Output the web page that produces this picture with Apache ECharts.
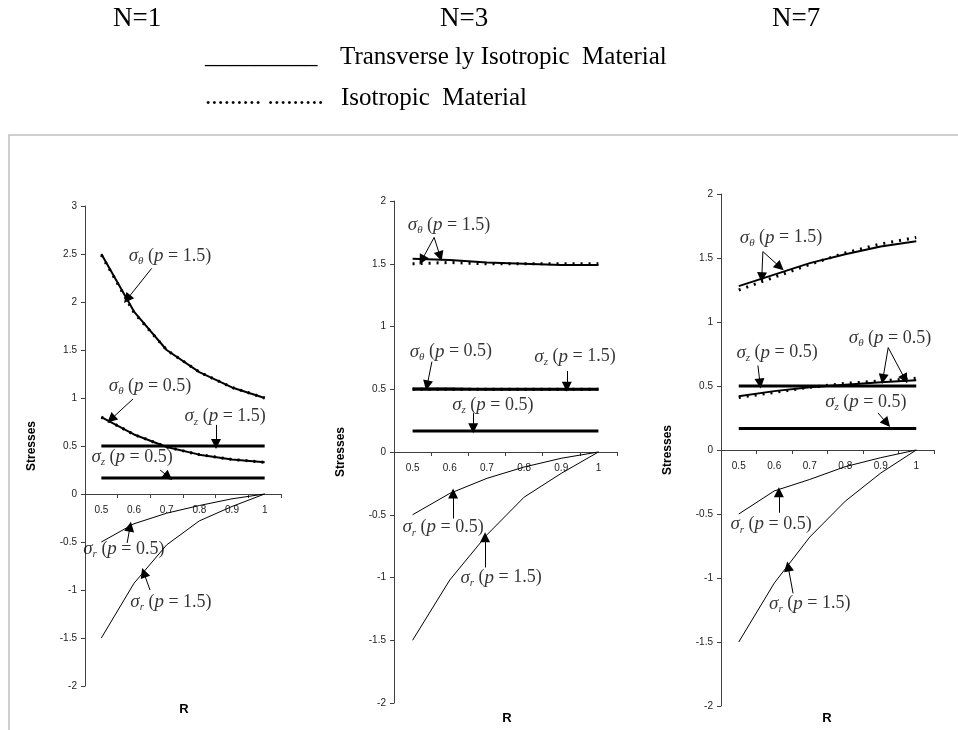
<!DOCTYPE html>
<html><head><meta charset="utf-8">
<script src="https://cdn.jsdelivr.net/npm/echarts@6/dist/echarts.min.js"></script>
<style>html,body{margin:0;padding:0;background:#fff}#c{width:958px;height:730px}</style>
</head><body><div id="c"></div>
<script>
// ---------- data ----------
const categories = ['0.5', '0.6', '0.7', '0.8', '0.9', '1'];
const panelTitles = ['N=1', 'N=3', 'N=7'];
const yTop = [3, 2, 2];
const yBottom = -2;

// N=1
const n1ThetaP15 = [2.5, 1.9, 1.5, 1.27, 1.11, 1.0];
const n1ThetaP15Iso = [2.49, 1.89, 1.5, 1.27, 1.11, 1.0];
const n1ThetaP05 = [0.80, 0.62, 0.49, 0.41, 0.36, 0.33];
const n1ThetaP05Iso = [0.80, 0.62, 0.49, 0.41, 0.36, 0.33];
const n1ZP15 = [0.5, 0.5, 0.5, 0.5, 0.5, 0.5];
const n1ZP05 = [0.167, 0.167, 0.167, 0.167, 0.167, 0.167];
const n1RP05 = [-0.5, -0.31, -0.2, -0.12, -0.05, 0];
const n1RP15 = [-1.5, -0.93, -0.53, -0.28, -0.13, 0];

// N=3
const n3ThetaP15 = [1.54, 1.53, 1.51, 1.50, 1.49, 1.49];
const n3ThetaP15Iso = [1.50, 1.51, 1.50, 1.50, 1.50, 1.50];
const n3ThetaP05 = [0.505, 0.505, 0.50, 0.50, 0.50, 0.50];
const n3ThetaP05Iso = [0.50, 0.50, 0.50, 0.50, 0.50, 0.50];
const n3ZP15 = [0.5, 0.5, 0.5, 0.5, 0.5, 0.5];
const n3ZP05 = [0.167, 0.167, 0.167, 0.167, 0.167, 0.167];
const n3RP05 = [-0.5, -0.33, -0.21, -0.12, -0.05, 0];
const n3RP15 = [-1.5, -1.02, -0.66, -0.36, -0.17, 0];

// N=7
const n7ThetaP15 = [1.28, 1.37, 1.46, 1.53, 1.59, 1.63];
const n7ThetaP15Iso = [1.25, 1.35, 1.45, 1.54, 1.61, 1.66];
const n7ThetaP05 = [0.42, 0.46, 0.49, 0.51, 0.53, 0.545];
const n7ThetaP05Iso = [0.41, 0.45, 0.49, 0.52, 0.54, 0.56];
const n7ZP15 = [0.5, 0.5, 0.5, 0.5, 0.5, 0.5];
const n7ZP05 = [0.167, 0.167, 0.167, 0.167, 0.167, 0.167];
const n7RP05 = [-0.5, -0.32, -0.23, -0.13, -0.06, 0];
const n7RP15 = [-1.5, -1.04, -0.68, -0.40, -0.18, 0];

// annotation labels: [R, stress, subscript, p]
const n1Labels = [[0.71, 2.48, 'θ', '1.5'], [0.649, 1.125, 'θ', '0.5'], [0.879, 0.81, 'z', '1.5'], [0.594, 0.385, 'z', '0.5'], [0.569, -0.573, 'r', '0.5'], [0.713, -1.125, 'r', '1.5']];
const n3Labels = [[0.598, 1.81, 'θ', '1.5'], [0.603, 0.80, 'θ', '0.5'], [0.937, 0.76, 'z', '1.5'], [0.716, 0.375, 'z', '0.5'], [0.582, -0.60, 'r', '0.5'], [0.738, -1.0, 'r', '1.5']];
const n7Labels = [[0.619, 1.66, 'θ', '1.5'], [0.608, 0.76, 'z', '0.5'], [0.926, 0.875, 'θ', '0.5'], [0.858, 0.375, 'z', '0.5'], [0.591, -0.58, 'r', '0.5'], [0.70, -1.2, 'r', '1.5']];
// arrows: [R1, s1, R2, s2] (head at 2)
const n1Arrows = [[0.654, 2.35, 0.579, 2.03], [0.597, 0.99, 0.53, 0.78], [0.851, 0.72, 0.851, 0.52], [0.68, 0.25, 0.705, 0.18], [0.579, -0.51, 0.588, -0.34], [0.649, -1.0, 0.63, -0.82]];
const n3Arrows = [[0.558, 1.71, 0.525, 1.53], [0.558, 1.71, 0.574, 1.56], [0.552, 0.72, 0.539, 0.53], [0.915, 0.645, 0.915, 0.52], [0.663, 0.31, 0.663, 0.19], [0.609, -0.53, 0.609, -0.33], [0.695, -0.92, 0.695, -0.68]];
const n7Arrows = [[0.568, 1.55, 0.565, 1.35], [0.568, 1.55, 0.616, 1.43], [0.554, 0.66, 0.56, 0.52], [0.921, 0.80, 0.906, 0.555], [0.921, 0.80, 0.968, 0.555], [0.892, 0.29, 0.917, 0.21], [0.613, -0.49, 0.613, -0.33], [0.653, -1.12, 0.639, -0.91]];

// ---------- build ----------
const panels = [
  {theta15: n1ThetaP15, theta15i: n1ThetaP15Iso, theta05: n1ThetaP05, theta05i: n1ThetaP05Iso, z15: n1ZP15, z05: n1ZP05, r05: n1RP05, r15: n1RP15, labels: n1Labels, arrows: n1Arrows},
  {theta15: n3ThetaP15, theta15i: n3ThetaP15Iso, theta05: n3ThetaP05, theta05i: n3ThetaP05Iso, z15: n3ZP15, z05: n3ZP05, r05: n3RP05, r15: n3RP15, labels: n3Labels, arrows: n3Arrows},
  {theta15: n7ThetaP15, theta15i: n7ThetaP15Iso, theta05: n7ThetaP05, theta05i: n7ThetaP05Iso, z15: n7ZP15, z05: n7ZP05, r05: n7RP05, r15: n7RP15, labels: n7Labels, arrows: n7Arrows}
];

const mainGrids = [
  {left: 85, top: 206, width: 196, height: 480},
  {left: 394, top: 201, width: 223, height: 502},
  {left: 721, top: 194, width: 213, height: 512}
];
// auxiliary grids whose bottom edge sits on stress = 0 (carry the visible R axis)
const auxGrids = mainGrids.map((g, i) => ({
  left: g.left, width: g.width, top: g.top,
  height: g.height * yTop[i] / (yTop[i] - yBottom)
}));

const SANS = 'Liberation Sans, Arial, sans-serif';
const SERIF = 'Liberation Serif, Times New Roman, serif';
const axisColor = '#404040';

const xAxes = [], yAxes = [], series = [];
// 0..2 : hidden category axes in main grids (data)
mainGrids.forEach((g, i) => {
  xAxes.push({type: 'category', gridIndex: i, data: categories, boundaryGap: true, show: false});
  yAxes.push({
    type: 'value', gridIndex: i, min: yBottom, max: yTop[i], interval: 0.5,
    name: 'Stresses', nameLocation: 'middle', nameGap: 47,
    nameTextStyle: {fontFamily: SANS, fontSize: 12, fontWeight: 'bold', color: '#000'},
    axisLine: {show: true, onZero: false, lineStyle: {color: axisColor, width: 1}},
    axisTick: {show: true, length: 4, lineStyle: {color: axisColor}},
    axisLabel: {color: '#222', fontFamily: SANS, fontSize: 10, margin: 8},
    splitLine: {show: false}
  });
});
// 3..5 : hidden value axes in main grids (annotations)
mainGrids.forEach((g, i) => {
  xAxes.push({type: 'value', gridIndex: i, min: 0.45, max: 1.05, show: false});
});
// 6..8 : visible category axes in aux grids (grid index 3..5)
auxGrids.forEach((g, i) => {
  xAxes.push({
    type: 'category', gridIndex: 3 + i, data: categories, boundaryGap: true, position: 'bottom',
    axisLine: {show: true, onZero: false, lineStyle: {color: axisColor, width: 1}},
    axisTick: {show: true, interval: 0, length: 4, lineStyle: {color: axisColor}},
    axisLabel: {interval: 0, color: '#222', fontFamily: SANS, fontSize: 10, margin: 11},
    splitLine: {show: false}
  });
  yAxes.push({type: 'value', gridIndex: 3 + i, min: 0, max: yTop[i], show: false});
});

function lineSeries(i, data, width, dotted) {
  return {
    type: 'line', xAxisIndex: i, yAxisIndex: i, data: data, symbol: 'none', smooth: false,
    lineStyle: {color: '#000', width: width, type: dotted ? [2, 6] : 'solid'},
    z: dotted ? 3 : 2, silent: true, animation: false
  };
}

panels.forEach((p, i) => {
  series.push(lineSeries(i, p.theta15i, 3, true));
  series.push(lineSeries(i, p.theta05i, 3, true));
  series.push(lineSeries(i, p.theta15, 2, false));
  series.push(lineSeries(i, p.theta05, 2, false));
  series.push(lineSeries(i, p.z15, 3, false));
  series.push(lineSeries(i, p.z05, 3, false));
  series.push(lineSeries(i, p.r05, 1, false));
  series.push(lineSeries(i, p.r15, 1, false));
  series.push({
    type: 'scatter', xAxisIndex: 3 + i, yAxisIndex: i, symbolSize: 0, silent: true, animation: false,
    data: p.labels.map(l => ({value: [l[0], l[1]], sub: l[2], pv: l[3]})),
    label: {
      show: true, position: 'inside',
      formatter: (prm) => '{s|σ}{b|' + prm.data.sub + '}{t| (}{i|p}{t| = ' + prm.data.pv + ')}',
      rich: {
        s: {fontFamily: SERIF, fontStyle: 'italic', fontSize: 19, color: '#000', lineHeight: 22},
        b: {fontFamily: SERIF, fontStyle: 'italic', fontSize: 11, color: '#000', lineHeight: 8, verticalAlign: 'bottom'},
        t: {fontFamily: SERIF, fontSize: 18, color: '#000', lineHeight: 22},
        i: {fontFamily: SERIF, fontStyle: 'italic', fontSize: 19, color: '#000', lineHeight: 22}
      }
    }
  });
  series.push({
    type: 'lines', coordinateSystem: 'cartesian2d', xAxisIndex: 3 + i, yAxisIndex: i,
    silent: true, animation: false,
    symbol: ['none', 'triangle'], symbolSize: [0, 10],
    lineStyle: {color: '#000', width: 1, opacity: 1},
    data: p.arrows.map(a => ({coords: [[a[0], a[1]], [a[2], a[3]]]}))
  });
});

const graphic = [
  {type: 'rect', shape: {x: 9, y: 135, width: 960, height: 620}, style: {fill: 'none', stroke: '#c0c0c0', lineWidth: 1.5}, silent: true, z: -10},
  {type: 'text', x: 113, y: 19, style: {text: panelTitles[0], font: '27px ' + SERIF, fill: '#000', textVerticalAlign: 'middle'}},
  {type: 'text', x: 440, y: 19, style: {text: panelTitles[1], font: '27px ' + SERIF, fill: '#000', textVerticalAlign: 'middle'}},
  {type: 'text', x: 772, y: 19, style: {text: panelTitles[2], font: '27px ' + SERIF, fill: '#000', textVerticalAlign: 'middle'}},
  {type: 'text', x: 205, y: 56, style: {text: '_________', font: '25px ' + SERIF, fill: '#000', textVerticalAlign: 'middle'}},
  {type: 'text', x: 340, y: 57, style: {text: 'Transverse ly Isotropic  Material', font: '25px ' + SERIF, fill: '#000', textVerticalAlign: 'middle'}},
  {type: 'text', x: 205, y: 97, style: {text: '......... .........', font: '25px ' + SERIF, fill: '#000', textVerticalAlign: 'middle'}},
  {type: 'text', x: 341, y: 98, style: {text: 'Isotropic  Material', font: '25px ' + SERIF, fill: '#000', textVerticalAlign: 'middle'}},
  {type: 'text', x: 184, y: 709, style: {text: 'R', font: 'bold 13px ' + SANS, fill: '#000', textAlign: 'center', textVerticalAlign: 'middle'}},
  {type: 'text', x: 507, y: 718, style: {text: 'R', font: 'bold 13px ' + SANS, fill: '#000', textAlign: 'center', textVerticalAlign: 'middle'}},
  {type: 'text', x: 827, y: 718, style: {text: 'R', font: 'bold 13px ' + SANS, fill: '#000', textAlign: 'center', textVerticalAlign: 'middle'}}
];

const chart = echarts.init(document.getElementById('c'), null, {renderer: 'canvas'});
chart.setOption({
  animation: false,
  backgroundColor: '#fff',
  grid: mainGrids.concat(auxGrids),
  xAxis: xAxes,
  yAxis: yAxes,
  series: series,
  graphic: graphic
});
</script>
</body></html>
